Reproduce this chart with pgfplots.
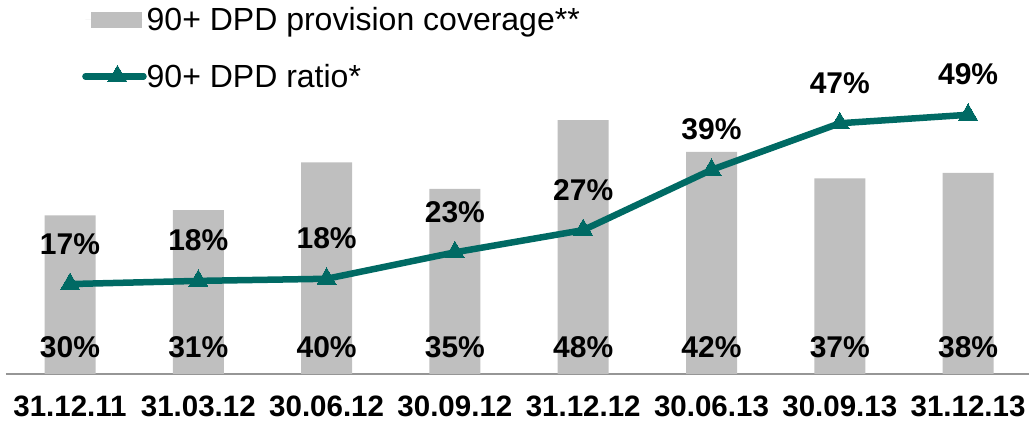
\documentclass[border=0pt]{standalone}
\usepackage{pgfplots}
\pgfplotsset{compat=1.18}
\usepackage{fontspec}
\setmainfont{Liberation Sans}
\definecolor{barcol}{RGB}{191,191,191}
\definecolor{linecol}{RGB}{0,106,100}
\definecolor{basecol}{RGB}{150,150,150}
\begin{document}
\begin{tikzpicture}
\useasboundingbox (0,0) rectangle (1029pt,422pt);
\begin{axis}[
  at={(6pt,48pt)}, anchor=south west,
  scale only axis, width=1023pt, height=374pt,
  xmin=-0.499, xmax=7.475,
  ymin=0, ymax=70.7,
  clip=false,
  axis y line=none,
  axis x line*=bottom,
  x axis line style={draw=basecol, line width=1.5pt},
  xtick={0,...,7},
  xticklabels={31.12.11,31.03.12,30.06.12,30.09.12,31.12.12,30.06.13,30.09.13,31.12.13},
  major tick length=0pt,
  xticklabel style={font=\fontsize{29.5}{30}\selectfont\bfseries, inner sep=0pt, yshift=-22pt, anchor=north},
  legend style={at={(0.0743,0.981)}, anchor=north west, draw=none, fill=none, inner sep=0pt,
    row sep=32pt, font=\fontsize{32}{36}\selectfont, nodes={inner sep=0pt}},
  legend cell align=left,
]
\addplot[ybar, bar width=51pt, fill=barcol, draw=none,
  legend image code/.code={\fill[barcol, overlay] (6pt,-8pt) rectangle (57pt,8pt); \path (0pt,0pt) -- (58pt,0pt);}]
  coordinates {(0,30) (1,31) (2,40) (3,35) (4,48) (5,42) (6,37) (7,38)};
\addlegendentry{90+ DPD provision coverage**}
\addplot[color=linecol, line width=6.5pt, line join=round, line cap=round,
  mark=triangle*, mark size=11pt, mark options={solid, fill=linecol, line width=0pt},
  nodes near coords={\pgfmathprintnumber[fixed,precision=0,assume math mode=true]{\pgfplotspointmeta}\%},
  every node near coord/.style={font=\fontsize{30}{30}\selectfont\bfseries, anchor=base, inner sep=0pt, yshift=30pt, text=black},
  legend image code/.code={\draw[linecol, line width=6.5pt, line cap=round, overlay] (6.25pt,0pt) -- (57.75pt,0pt);
     \draw[linecol, fill=linecol, line width=0pt, overlay] plot[mark=triangle*, mark size=11pt] coordinates {(32pt,0pt)};
     \path (0pt,0pt) -- (58pt,0pt);}]
  coordinates {(0,17) (1,17.6) (2,18) (3,23) (4,27.2) (5,38.6) (6,47.4) (7,49)};
\addlegendentry{90+ DPD ratio*}
\addplot[draw=none, mark=none, forget plot, point meta=explicit,
  nodes near coords={\pgfmathprintnumber[assume math mode=true]{\pgfplotspointmeta}\%},
  every node near coord/.style={font=\fontsize{30}{30}\selectfont\bfseries, anchor=base, inner sep=0pt, text=black}]
  coordinates {(0,3.2) [30] (1,3.2) [31] (2,3.2) [40] (3,3.2) [35] (4,3.2) [48] (5,3.2) [42] (6,3.2) [37] (7,3.2) [38]};
\end{axis}
\end{tikzpicture}
\end{document}
